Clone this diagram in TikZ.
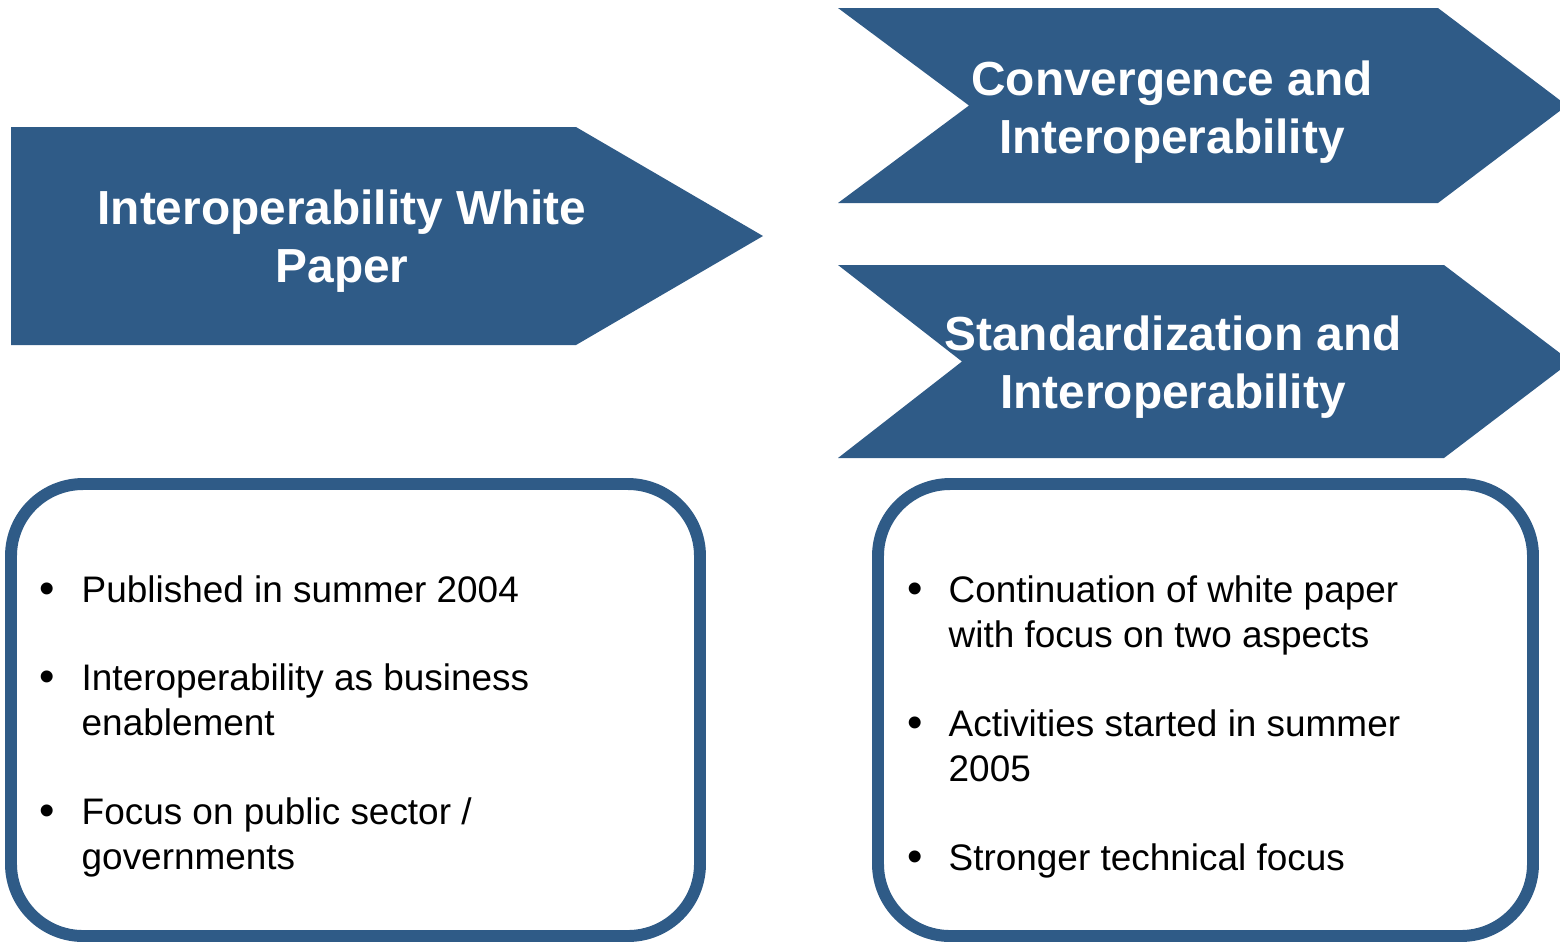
\documentclass[tikz,border=0pt]{standalone}
\usepackage{fontspec}
\setmainfont{Liberation Sans}
\definecolor{chevblue}{RGB}{47,91,135}
\tikzset{
    chev/.style={fill=chevblue,draw=none},
    chevtext/.style={text=white,align=center,inner sep=0pt,font=\fontsize{13.6}{16.3}\selectfont\bfseries},
    notebox/.style={draw=chevblue,line width=3.4pt,rounded corners=0.72cm},
    itemtext/.style={anchor=base west,align=left,inner sep=0pt,font=\fontsize{10.5}{12.7}\selectfont},
    itemdot/.style={anchor=base,inner sep=0pt,font=\fontsize{12.5}{12.7}\selectfont},
}
\begin{document}
\begin{tikzpicture}[x=0.01cm,y=-0.01cm]
                \useasboundingbox (0,0) rectangle (1560,941);
                %% left arrow
                \fill[chev] (11,127) -- (576,127) -- (763,236) -- (576,345) -- (11,345) -- cycle;
                \node[chevtext] (whitepaper) at (342,241) {Interoperability White\\Paper};
                %% right chevrons
                \fill[chev] (838,8) -- (1438,8) -- (1567,105.5) -- (1438,203) -- (838,203) -- (969,105.5) -- cycle;
                \node[chevtext] (convergence) at (1172,112) {Convergence and\\Interoperability};
                \fill[chev] (838,265) -- (1444,265) -- (1571,361.5) -- (1444,458) -- (838,458) -- (962,361.5) -- cycle;
                \node[chevtext] (standard) at (1173,367) {Standardization and\\Interoperability};
                %% boxes
                \draw[notebox] (11,484) rectangle (700,936);
                \draw[notebox] (878,484) rectangle (1533,936);
                %% left items (text nodes sit on their last line)
                \node[itemdot] (ldota) at (47,603) {\textbullet};
                \node[itemtext] (litema) at (81,602) {Published in summer 2004};
                \node[itemdot] (ldotb) at (47,691) {\textbullet};
                \node[itemtext] (litemb) at (81,735) {Interoperability as business\\enablement};
                \node[itemdot] (ldotc) at (47,825) {\textbullet};
                \node[itemtext] (litemc) at (81,869) {Focus on public sector /\\governments};
                %% right items
                \node[itemdot] (rdota) at (915,603) {\textbullet};
                \node[itemtext] (ritema) at (948,647) {Continuation of white paper\\with focus on two aspects};
                \node[itemdot] (rdotb) at (915,737) {\textbullet};
                \node[itemtext] (ritemb) at (948,781) {Activities started in summer\\2005};
                \node[itemdot] (rdotc) at (915,871) {\textbullet};
                \node[itemtext] (ritemc) at (948,870) {Stronger technical focus};
\end{tikzpicture}
\end{document}
